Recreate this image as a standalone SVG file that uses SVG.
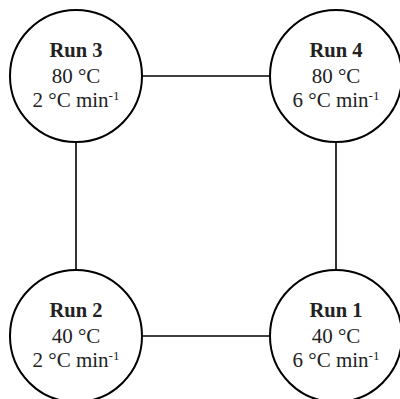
<svg xmlns="http://www.w3.org/2000/svg" width="400" height="399" viewBox="0 0 400 399">
<style>
.node circle{fill:#fff;stroke:#000;stroke-width:2}
.edge{stroke:#000;stroke-width:1.6;fill:none}
text{font-family:"Liberation Serif","Times New Roman",serif;font-size:21px;fill:#222;text-anchor:middle}
.t{font-weight:bold;font-size:20.5px}
.sup{font-size:13px}
</style>
<rect width="400" height="399" fill="#fff"/>
<g id="connectors">
<line class="edge" x1="142" y1="76" x2="270" y2="76"/>
<line class="edge" x1="142" y1="336" x2="270" y2="336"/>
<line class="edge" x1="76" y1="142" x2="76" y2="270"/>
<line class="edge" x1="336" y1="142" x2="336" y2="270"/>
</g>
<g id="run3" class="node">
<circle cx="76" cy="76" r="66"/>
<text x="76" y="57" class="t">Run 3</text>
<text x="76" y="83">80 °C</text>
<text x="76" y="107">2 °C min<tspan class="sup" dy="-7">-1</tspan></text>
</g>
<g id="run4" class="node">
<circle cx="336" cy="76" r="66"/>
<text x="336" y="57" class="t">Run 4</text>
<text x="336" y="83">80 °C</text>
<text x="336" y="107">6 °C min<tspan class="sup" dy="-7">-1</tspan></text>
</g>
<g id="run2" class="node">
<circle cx="76" cy="336" r="66"/>
<text x="76" y="317" class="t">Run 2</text>
<text x="76" y="343">40 °C</text>
<text x="76" y="367">2 °C min<tspan class="sup" dy="-7">-1</tspan></text>
</g>
<g id="run1" class="node">
<circle cx="336" cy="336" r="66"/>
<text x="336" y="317" class="t">Run 1</text>
<text x="336" y="343">40 °C</text>
<text x="336" y="367">6 °C min<tspan class="sup" dy="-7">-1</tspan></text>
</g>
</svg>
